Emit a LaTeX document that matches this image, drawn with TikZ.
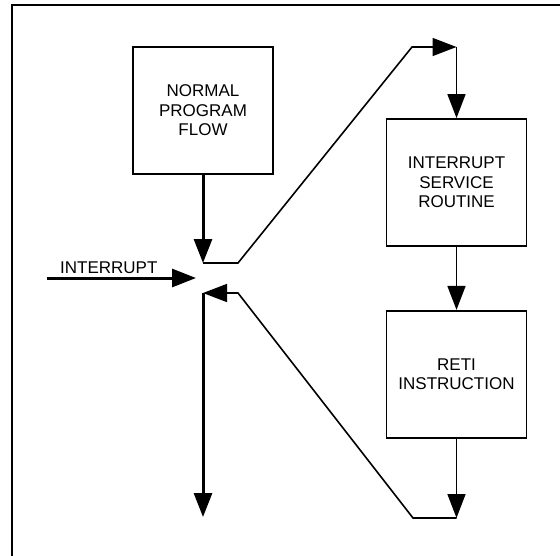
\documentclass[tikz,border=0pt]{standalone}
\usepackage{fontspec}
\setmainfont{Liberation Sans}
\usepackage{tikz}
\usetikzlibrary{arrows.meta}
\usetikzlibrary{positioning}

\tikzset{
  block/.style={draw, line width=1.8pt, minimum width=140pt, minimum height=127pt,
    align=center, inner sep=0pt, font=\fontsize{17}{19.5}\selectfont},
  lbl/.style={inner sep=0pt, font=\fontsize{17}{19.5}\selectfont},
  flow/.style={-{Triangle[length=24pt,width=18pt]}},
  heavy/.style={line width=3pt},
  light/.style={line width=1.6pt},
}

\begin{document}
\begin{tikzpicture}[x=1pt,y=-1pt]
      \useasboundingbox (0,0) rectangle (560,555);
      \draw[line width=2.4pt] (12,556) -- (12,5) -- (561,5);

      \node[block] (npf) at (203,110.5) {NORMAL\\PROGRAM\\FLOW};
      \node[block] (isr) at (456.5,182.5) {INTERRUPT\\SERVICE\\ROUTINE};
      \node[block, below=63pt of isr] (reti) {RETI\\INSTRUCTION};

      \coordinate (merge) at (203,263);
      \coordinate (bend1) at (238,263);
      \coordinate (bend2) at (412,47);
      \coordinate (top) at (isr.north |- bend2);
      \coordinate (bottom) at (456.5,518);
      \coordinate (bend3) at (413,518);
      \coordinate (bend4) at (238,293);
      \coordinate (resume) at (203,293);
      \coordinate (out) at (203,517);
      \coordinate (irqin) at (47,278);
      \coordinate (irqtip) at (196,278);

      \node[lbl, anchor=base west] (irqlabel) at (60,273.5) {INTERRUPT};

      \draw[heavy, flow] (irqin) -- (irqtip);
      \draw[heavy, flow] (npf.south) -- (merge);
      \draw[light, flow] (merge) -- (bend1) -- (bend2) -- (top);
      \draw[light, flow] (top) -- (isr.north);
      \draw[light, flow] (isr.south) -- (reti.north);
      \draw[light, flow] (reti.south) -- (bottom);
      \draw[light, flow] (bottom) -- (bend3) -- (bend4) -- (resume);
      \draw[heavy, flow] (resume) -- (out);
\end{tikzpicture}
\end{document}
